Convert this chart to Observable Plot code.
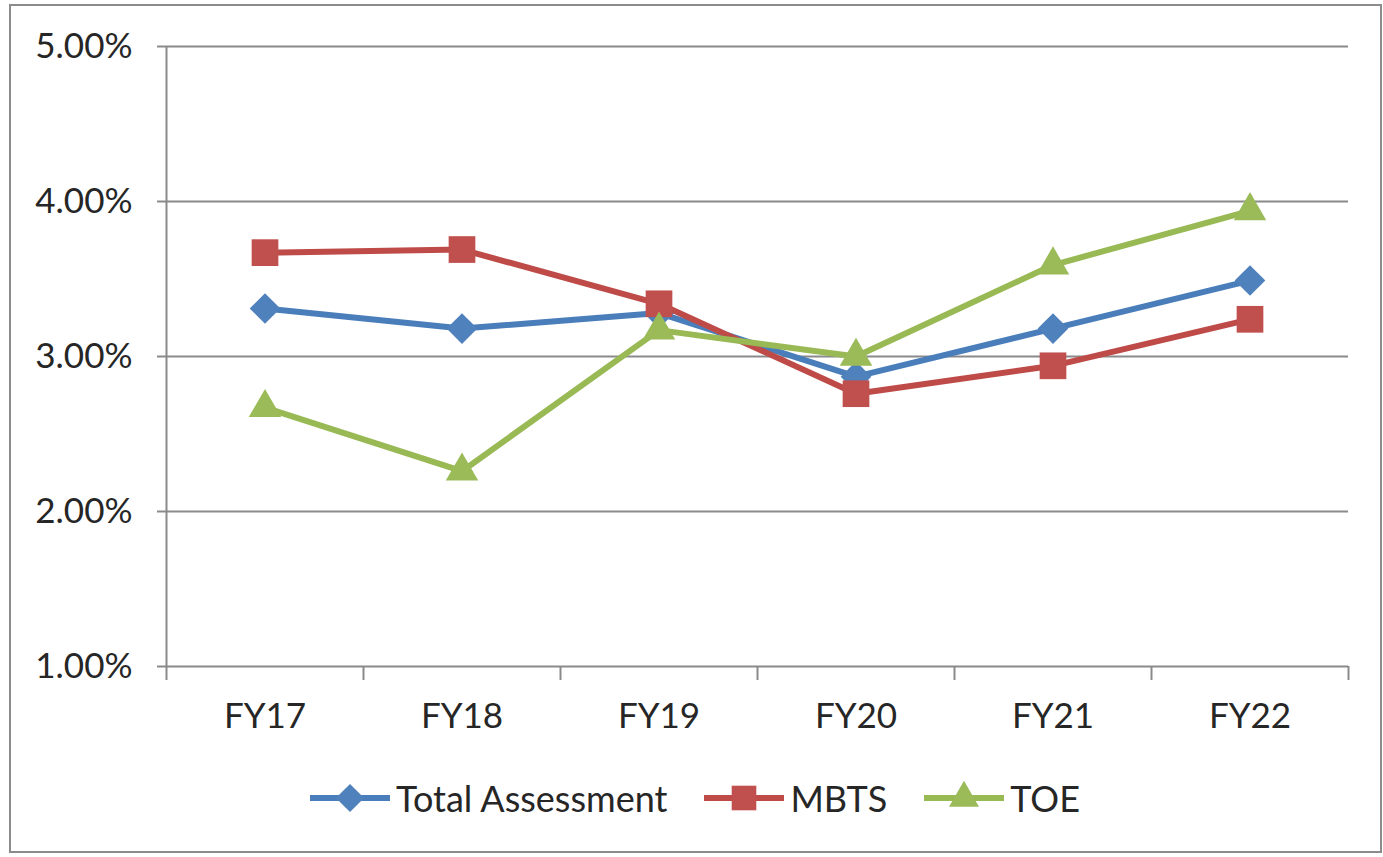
<!DOCTYPE html>
<html><head><meta charset="utf-8">
<script src="https://cdn.jsdelivr.net/npm/d3@7"></script>
<script src="https://cdn.jsdelivr.net/npm/@observablehq/plot@0.6"></script>
<style>
html,body{margin:0;padding:0;background:#fff;}
#frame{position:absolute;left:9px;top:4px;width:1369px;height:845px;border:2px solid #8c8c8c;}
#chart{position:absolute;left:0;top:0;}
#legend{position:absolute;left:0;width:1389px;top:778px;height:40px;display:flex;justify-content:center;align-items:center;font-family:Lato,sans-serif;font-size:36px;color:#262626;}
.item{display:flex;align-items:center;margin:0 18px;}
.item span{margin-left:5px;line-height:40px;}
</style></head><body>
<div id="frame"></div><div id="chart"></div><div id="legend"></div>
<script>
const categories = ["FY17","FY18","FY19","FY20","FY21","FY22"];
const seriesNames = ["Total Assessment","MBTS","TOE"];
const totalAssessment = [0.0331,0.0318,0.0328,0.0287,0.0318,0.0349];
const mbts = [0.0367,0.0369,0.0334,0.0276,0.0294,0.0324];
const toe = [0.0267,0.0226,0.0317,0.0300,0.0359,0.0394];
const yTicks = [0.01,0.02,0.03,0.04,0.05];

const seriesValues = [totalAssessment, mbts, toe];
const lineColors = ["#4A7EBB","#BE4B48","#98B954"];
const markerColors = ["#4F81BD","#C0504D","#9BBB59"];
const symbols = ["diamond2","square2","triangle2"];
const radii = [13.8,17,15.5];
const grid = "#8a8a8a";

const rows = seriesNames.flatMap((s,k)=>categories.map((c,i)=>({series:s, cat:c, x:i+0.5, value:seriesValues[k][i]})));

const marks = [
  Plot.ruleY(yTicks, {stroke:grid, strokeWidth:2}),
  Plot.ruleX([0], {stroke:grid, strokeWidth:2}),
  Plot.axisY({ticks:yTicks, tickSize:9, tickPadding:25, tickFormat:d=>(d*100).toFixed(2)+"%", stroke:grid, strokeWidth:2, label:null}),
  Plot.axisX({ticks:d3.range(0,categories.length+1), tickSize:14, tickFormat:()=>"", stroke:grid, strokeWidth:2, label:null}),
  Plot.axisX({ticks:categories.map((c,i)=>i+0.5), tickSize:0, tickPadding:37, tickFormat:d=>categories[Math.round(d-0.5)], label:null})
];
seriesNames.forEach((s,k)=>{
  const data = rows.filter(r=>r.series===s);
  marks.push(Plot.line(data, {x:"x", y:"value", stroke:lineColors[k], strokeWidth:6}));
  marks.push(Plot.dot(data, {x:"x", y:"value", symbol:()=>symbols[k], fill:markerColors[k], r:radii[k]}));
});

const chart = Plot.plot({
  width:1383, height:760,
  marginLeft:166, marginRight:35, marginTop:46, marginBottom:94,
  style:{fontFamily:"Lato, sans-serif", fontSize:"35px", color:"#262626", background:"transparent", overflow:"visible"},
  x:{domain:[0,categories.length], axis:null},
  y:{domain:[0.01,0.05], axis:null},
  symbol:{type:"identity"},
  marks
});
document.getElementById("chart").appendChild(chart);

const legend = d3.select("#legend");
seriesNames.forEach((s,k)=>{
  const item = legend.append("div").attr("class","item");
  const svg = item.append("svg").attr("width",82).attr("height",40);
  svg.append("line").attr("x1",1).attr("x2",81).attr("y1",20).attr("y2",20).attr("stroke",lineColors[k]).attr("stroke-width",6);
  const sym = {diamond2:d3.symbolDiamond2, square2:d3.symbolSquare2, triangle2:d3.symbolTriangle2}[symbols[k]];
  svg.append("path").attr("transform","translate(41,20)").attr("d", d3.symbol(sym, Math.PI*radii[k]*radii[k]*0.85)()).attr("fill",markerColors[k]);
  item.append("span").text(s);
});
</script>
</body></html>
